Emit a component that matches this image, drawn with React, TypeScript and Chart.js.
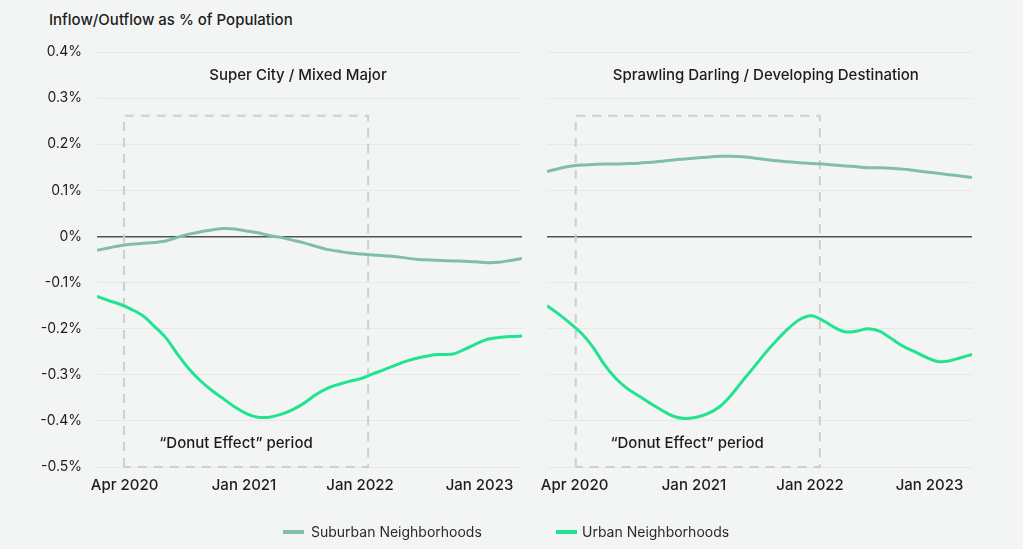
import React, { useEffect, useRef } from "react";
import { Chart, registerables } from "chart.js";

Chart.register(...registerables);

// ---- data ----
const pointIndex: number[] = Array.from({ length: 38 }, (_, i) => i);

const tickPositions = [2.4, 12.8, 22.9, 33.3];
const tickLabels = ["Apr 2020", "Jan 2021", "Jan 2022", "Jan 2023"];

const suburbanLeft = [
  -0.03, -0.025, -0.02, -0.017, -0.015, -0.013, -0.01, -0.002, 0.005, 0.01,
  0.014, 0.017, 0.016, 0.012, 0.008, 0.002, -0.002, -0.008, -0.014, -0.021,
  -0.028, -0.032, -0.036, -0.038, -0.04, -0.042, -0.044, -0.047, -0.05, -0.051,
  -0.052, -0.053, -0.054, -0.055, -0.057, -0.056, -0.052, -0.048,
];
const urbanLeft = [
  -0.13, -0.139, -0.147, -0.158, -0.172, -0.195, -0.22, -0.255, -0.287, -0.313,
  -0.334, -0.352, -0.37, -0.384, -0.392, -0.392, -0.386, -0.376, -0.362, -0.344,
  -0.33, -0.321, -0.314, -0.308, -0.298, -0.289, -0.279, -0.27, -0.263, -0.258,
  -0.256, -0.255, -0.245, -0.233, -0.223, -0.219, -0.217, -0.216,
];
const suburbanRight = [
  0.141, 0.147, 0.152, 0.155, 0.156, 0.157, 0.157, 0.158, 0.159, 0.161,
  0.163, 0.166, 0.168, 0.17, 0.172, 0.174, 0.174, 0.173, 0.17, 0.167,
  0.164, 0.162, 0.16, 0.158, 0.157, 0.155, 0.153, 0.151, 0.149, 0.149,
  0.148, 0.146, 0.143, 0.14, 0.137, 0.134, 0.131, 0.128,
];
const urbanRight = [
  -0.15, -0.168, -0.188, -0.21, -0.24, -0.278, -0.308, -0.33, -0.346, -0.362,
  -0.377, -0.39, -0.395, -0.392, -0.384, -0.37, -0.345, -0.314, -0.284, -0.253,
  -0.225, -0.2, -0.18, -0.172, -0.182, -0.197, -0.207, -0.205, -0.2, -0.206,
  -0.222, -0.238, -0.25, -0.262, -0.271, -0.27, -0.263, -0.256,
];

const panelTitles = ["Super City / Mixed Major", "Sprawling Darling / Developing Destination"];
const seriesNames = ["Suburban Neighborhoods", "Urban Neighborhoods"];
const periodLabel = "\u201CDonut Effect\u201D period";
const periodStart = 2.35;
const periodEnd = 23.6;
const periodTop = 0.262;

const SUB_COLOR = "#80bea9";
const URB_COLOR = "#22e38f";
const BG = "#f3f5f4";
const FONT = "Inter, 'Noto Sans', sans-serif";

const decorPlugin = {
  id: "panelDecor",
  beforeDatasetsDraw(chart: any, _args: any, opts: any) {
    const { ctx } = chart;
    const x = chart.scales.x;
    const y = chart.scales.y;
    const x0 = x.getPixelForValue(opts.boxStart);
    const x1 = x.getPixelForValue(opts.boxEnd);
    const y0 = y.getPixelForValue(opts.boxTop);
    const y1 = y.getPixelForValue(-0.5);
    ctx.save();
    ctx.strokeStyle = "#cdcfce";
    ctx.lineWidth = 2;
    ctx.setLineDash([9, 7]);
    ctx.beginPath();
    ctx.moveTo(x0, y1);
    ctx.lineTo(x0, y0);
    ctx.lineTo(x1, y0);
    ctx.lineTo(x1, y1);
    ctx.lineTo(x0, y1);
    ctx.stroke();
    ctx.restore();
  },
  afterDatasetsDraw(chart: any, _args: any, opts: any) {
    const { ctx } = chart;
    const x = chart.scales.x;
    const y = chart.scales.y;
    ctx.save();
    ctx.fillStyle = "#1c1c1c";
    ctx.textAlign = "center";
    ctx.textBaseline = "middle";
    ctx.font = `500 15px ${FONT}`;
    ctx.fillText(opts.title, x.getPixelForValue(opts.titleX), y.getPixelForValue(0.35));
    ctx.fillText(periodLabel, x.getPixelForValue(opts.labelX), y.getPixelForValue(-0.449));
    ctx.restore();
  },
};

function makeChart(
  canvas: HTMLCanvasElement,
  sub: number[],
  urb: number[],
  cfg: { showY: boolean; yWidth: number; padRight: number; title: string; titleX: number; boxStart: number; boxEnd: number; boxTop: number; labelX: number }
) {
  return new Chart(canvas, {
    type: "line",
    data: {
      datasets: [
        {
          label: seriesNames[0],
          data: sub.map((v, i) => ({ x: pointIndex[i], y: v })),
          borderColor: SUB_COLOR,
          borderWidth: 3,
          pointRadius: 0,
          tension: 0.35,
          fill: false,
        },
        {
          label: seriesNames[1],
          data: urb.map((v, i) => ({ x: pointIndex[i], y: v })),
          borderColor: URB_COLOR,
          borderWidth: 3,
          pointRadius: 0,
          tension: 0.35,
          fill: false,
        },
      ],
    },
    options: {
      responsive: false,
      animation: false,
      layout: { padding: { left: 0, right: cfg.padRight, top: 52, bottom: 0 } },
      plugins: {
        legend: { display: false },
        tooltip: { enabled: false },
        panelDecor: cfg,
      } as any,
      scales: {
        x: {
          type: "linear",
          min: 0,
          max: pointIndex.length - 1,
          grid: { display: false, drawTicks: false },
          border: { display: false },
          afterBuildTicks: (scale: any) => {
            scale.ticks = tickPositions.map((v) => ({ value: v }));
          },
          afterFit: (scale: any) => {
            scale.height = 82;
          },
          ticks: {
            autoSkip: false,
            maxRotation: 0,
            padding: 9,
            color: "#1c1c1c",
            font: { family: FONT, size: 15, weight: 500 },
            callback: (_v: any, i: number) => tickLabels[i],
          },
        },
        y: {
          min: -0.5,
          max: 0.4,
          afterFit: (scale: any) => {
            scale.width = cfg.yWidth;
          },
          grid: {
            drawTicks: false,
            color: (c: any) => (c.tick && Math.abs(c.tick.value) < 1e-9 ? "#4d5452" : "#e6e9e8"),
            lineWidth: (c: any) => (c.tick && Math.abs(c.tick.value) < 1e-9 ? 1.6 : 1),
          },
          border: { display: false },
          ticks: {
            display: cfg.showY,
            stepSize: 0.1,
            padding: 15,
            color: "#1c1c1c",
            font: { family: FONT, size: 14 },
            callback: (v: any) => `${Math.round(Number(v) * 10) / 10}%`,
          },
        },
      },
    },
    plugins: [decorPlugin],
  } as any);
}

export default function App() {
  const leftRef = useRef<HTMLCanvasElement>(null);
  const rightRef = useRef<HTMLCanvasElement>(null);

  useEffect(() => {
    const c1 = makeChart(leftRef.current!, suburbanLeft, urbanLeft, {
      showY: true,
      yWidth: 97,
      padRight: 8,
      title: panelTitles[0],
      titleX: 17.5,
      boxStart: periodStart,
      boxEnd: periodEnd,
      boxTop: periodTop,
      labelX: 12.1,
    });
    const c2 = makeChart(rightRef.current!, suburbanRight, urbanRight, {
      showY: false,
      yWidth: 17,
      padRight: 51,
      title: panelTitles[1],
      titleX: 19.05,
      boxStart: periodStart + 0.15,
      boxEnd: periodEnd + 0.15,
      boxTop: periodTop,
      labelX: 12.2,
    });
    return () => {
      c1.destroy();
      c2.destroy();
    };
  }, []);

  return (
    <div style={{ position: "fixed", left: 0, top: 0, width: 1023, height: 549, background: BG, overflow: "hidden", fontFamily: FONT }}>
      <div style={{ position: "absolute", left: 49, top: 10, fontSize: 15, fontWeight: 500, color: "#1c1c1c", lineHeight: "20px", whiteSpace: "nowrap" }}>
        Inflow/Outflow as % of Population
      </div>
      <canvas ref={leftRef} width={530} height={549} style={{ position: "absolute", left: 0, top: 0 }} />
      <canvas ref={rightRef} width={493} height={549} style={{ position: "absolute", left: 530, top: 0 }} />
      <div style={{ position: "absolute", left: 283, top: 522, display: "flex", alignItems: "center", fontSize: 14, color: "#2a2a2a", lineHeight: "20px", whiteSpace: "nowrap" }}>
        <span style={{ display: "inline-block", width: 21, height: 4, background: SUB_COLOR, marginRight: 7 }} />
        {seriesNames[0]}
      </div>
      <div style={{ position: "absolute", left: 556, top: 522, display: "flex", alignItems: "center", fontSize: 14, color: "#2a2a2a", lineHeight: "20px", whiteSpace: "nowrap" }}>
        <span style={{ display: "inline-block", width: 21, height: 4, background: URB_COLOR, marginRight: 5 }} />
        {seriesNames[1]}
      </div>
    </div>
  );
}
